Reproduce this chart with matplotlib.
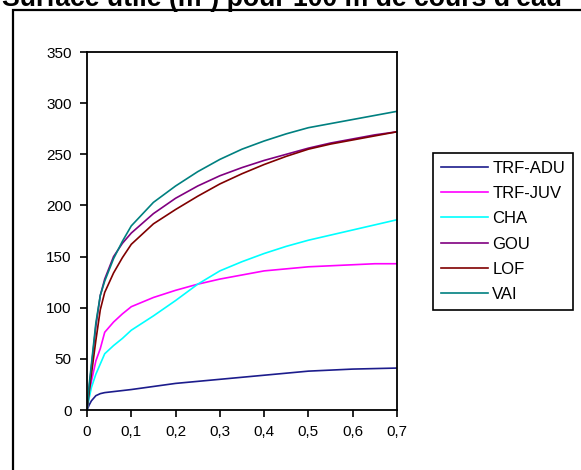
import matplotlib
matplotlib.use('Agg')
import matplotlib.pyplot as plt
from matplotlib.patches import Rectangle

plt.rcParams['font.family'] = ['Liberation Sans', 'DejaVu Sans']

# ── Data ──────────────────────────────────────────────────────────────────
debit = [0, 0.005, 0.01, 0.02, 0.03, 0.04, 0.06, 0.08, 0.1, 0.15, 0.2,
         0.25, 0.3, 0.35, 0.4, 0.45, 0.5, 0.55, 0.6, 0.65, 0.7]

trf_adu = [0, 5, 9, 14, 16, 17, 18, 19, 20, 23, 26, 28, 30, 32, 34, 36, 38, 39, 40, 40.5, 41]
trf_juv = [0, 15, 28, 48, 60, 76, 86, 94, 101, 110, 117, 123, 128, 132, 136, 138, 140, 141, 142, 143, 143]
cha     = [0, 12, 22, 35, 45, 55, 63, 70, 78, 92, 107, 123, 136, 145, 153, 160, 166, 171, 176, 181, 186]
gou     = [0, 22, 42, 82, 112, 128, 150, 163, 173, 192, 207, 219, 229, 237, 244, 250, 256, 261, 265, 269, 272]
lof     = [0, 18, 35, 68, 98, 115, 134, 149, 162, 182, 196, 209, 221, 231, 240, 248, 255, 260, 264, 268, 272]
vai     = [0, 25, 45, 85, 112, 126, 148, 165, 180, 203, 219, 233, 245, 255, 263, 270, 276, 280, 284, 288, 292]

series = [('TRF-ADU', trf_adu, '#1c1c8c'),
          ('TRF-JUV', trf_juv, '#ff00ff'),
          ('CHA',     cha,     '#00ffff'),
          ('GOU',     gou,     '#800080'),
          ('LOF',     lof,     '#800000'),
          ('VAI',     vai,     '#008080')]

TITLE = "Surface utile (m²) pour 100 m de cours d'eau"

# ── Figure ────────────────────────────────────────────────────────────────
W, H = 581, 470
fig = plt.figure(figsize=(W / 100, H / 100), dpi=100)
fig.patch.set_facecolor('white')

# outer chart frame, runs off the right and bottom edges
fig.patches.append(Rectangle((13 / W, -0.2), 1.2, (H - 10) / H + 0.2,
                             transform=fig.transFigure, fill=False,
                             edgecolor='black', linewidth=1.6))

fig.text(2 / W, 1 - 6 / H, TITLE, fontsize=19.2, fontweight='bold',
         ha='left', va='baseline')

ax = fig.add_axes([87 / W, (H - 410) / H, 310 / W, 358 / H])
for name, vals, color in series:
    ax.plot(debit, vals, color=color, linewidth=1.2, label=name)

ax.set_xlim(0, 0.7)
ax.set_ylim(0, 350)
ax.set_xticks([0, 0.1, 0.2, 0.3, 0.4, 0.5, 0.6, 0.7])
ax.set_xticklabels(['0', '0,1', '0,2', '0,3', '0,4', '0,5', '0,6', '0,7'])
ax.set_yticks(range(0, 351, 50))
ax.tick_params(direction='out', length=5, width=1.2, labelsize=11, pad=6)
for sp in ax.spines.values():
    sp.set_linewidth(1.3)
    sp.set_color('black')

leg = ax.legend(loc='upper left', bbox_to_anchor=(433 / W, 1 - 153 / H),
                bbox_transform=fig.transFigure, borderaxespad=0,
                fontsize=12, handlelength=2.85, handletextpad=0.25,
                labelspacing=0.62, borderpad=0.45, fancybox=False,
                framealpha=1, edgecolor='black')
leg.get_frame().set_linewidth(1.2)

fig.savefig('out.png', dpi=100, facecolor='white')
